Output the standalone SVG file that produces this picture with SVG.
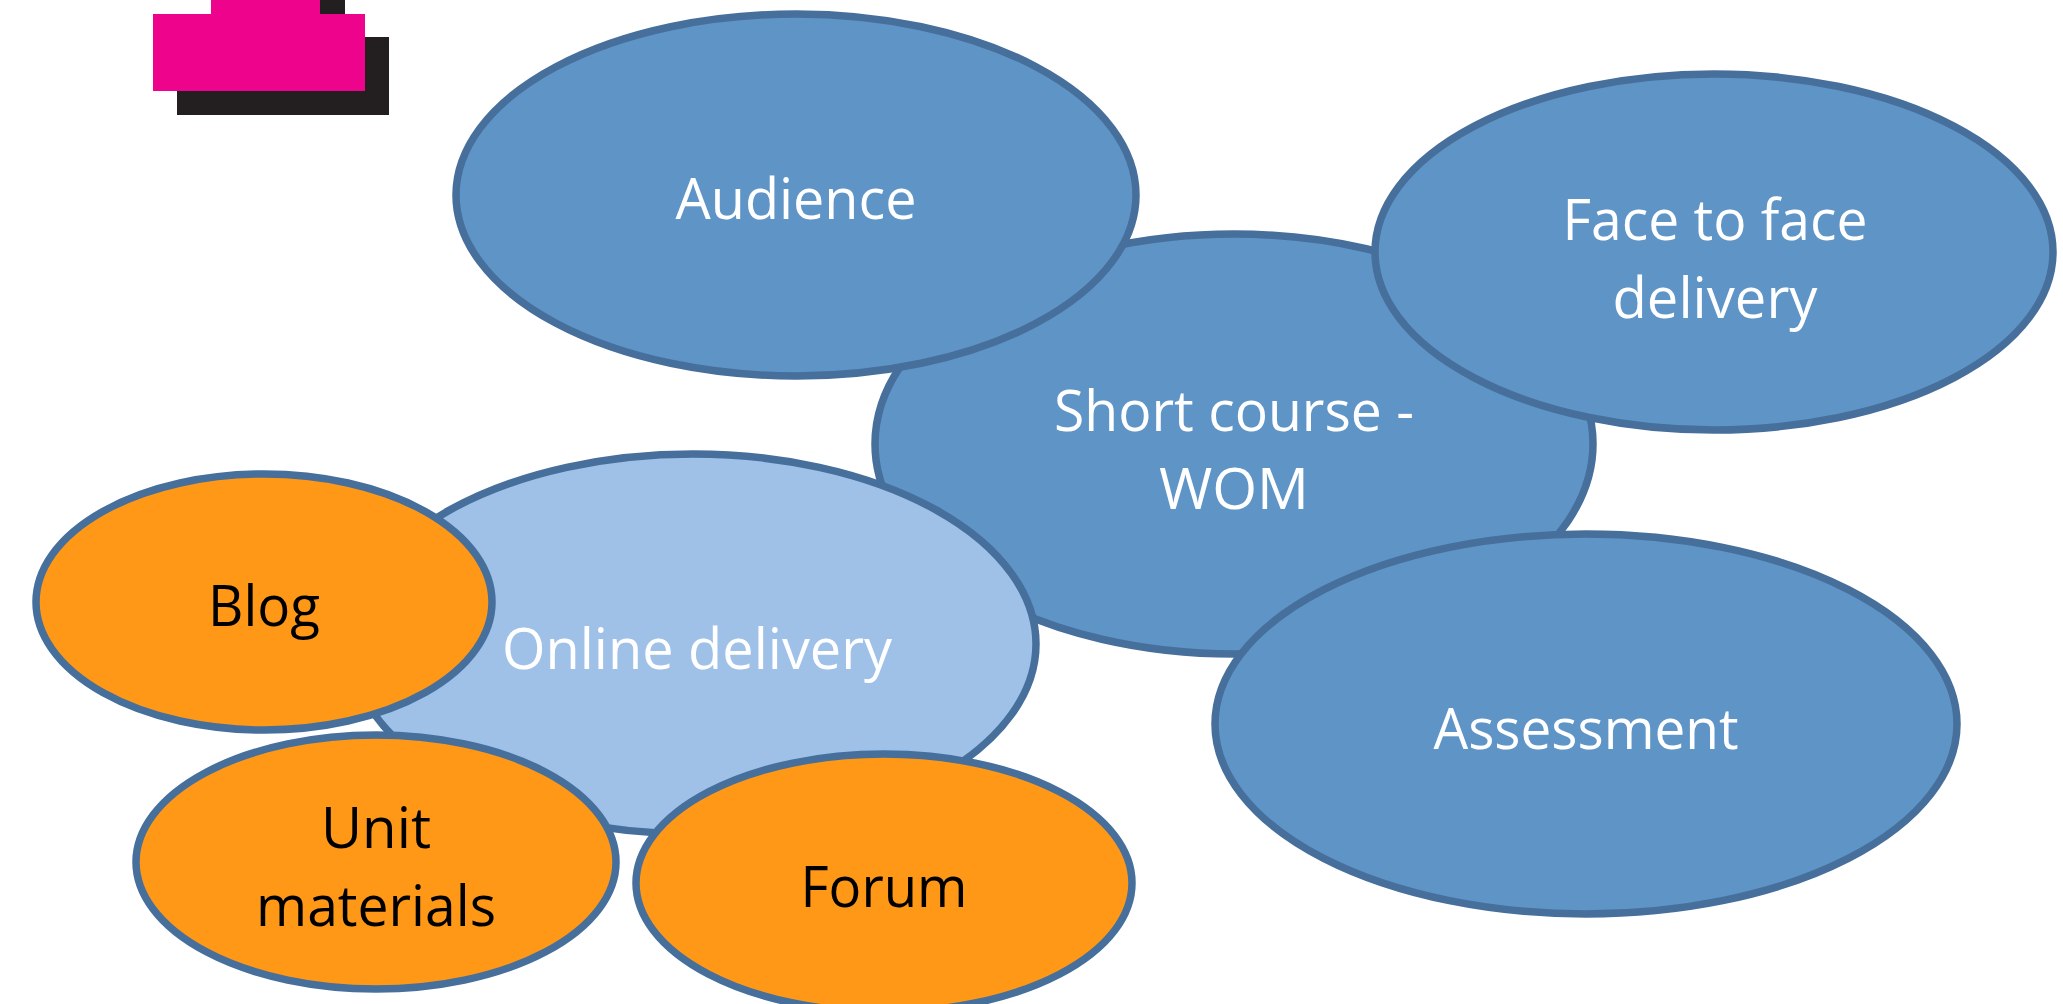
<svg xmlns="http://www.w3.org/2000/svg" width="2063" height="1004" viewBox="0 0 2063 1004">
<style>
.n{stroke:#466f9c;stroke-width:7.5}
.b{fill:#5f94c7}.l{fill:#9fc1e8}.o{fill:#ff9817}
text{font-family:"Open Sans","Noto Sans","Liberation Sans",sans-serif;font-size:56px;text-anchor:middle}
.w{fill:#fff}.k{fill:#000}
</style>
<rect width="2063" height="1004" fill="#fff"/>
<g id="logo">
<rect x="320" y="0" width="25" height="14" fill="#231f20"/>
<rect x="177" y="37" width="212" height="78" fill="#231f20"/>
<rect x="211" y="0" width="109" height="14" fill="#ee048c"/>
<rect x="153" y="14" width="212" height="77" fill="#ee048c"/>
</g>
<g id="connectors"></g>
<g id="short-course"><ellipse class="n b" cx="1234" cy="444" rx="359" ry="210"/><text class="w" x="1234" y="431" textLength="360" lengthAdjust="spacingAndGlyphs">Short course -</text><text class="w" x="1234" y="509" textLength="150" lengthAdjust="spacingAndGlyphs">WOM</text></g>
<g id="audience"><ellipse class="n b" cx="796" cy="195" rx="340" ry="181"/><text class="w" x="796" y="219" textLength="241" lengthAdjust="spacingAndGlyphs">Audience</text></g>
<g id="face-to-face"><ellipse class="n b" cx="1714" cy="252" rx="339" ry="178"/><text class="w" x="1715" y="240" textLength="305" lengthAdjust="spacingAndGlyphs">Face to face</text><text class="w" x="1715" y="318" textLength="205" lengthAdjust="spacingAndGlyphs">delivery</text></g>
<g id="assessment"><ellipse class="n b" cx="1586" cy="724" rx="371" ry="190"/><text class="w" x="1586" y="749" textLength="305" lengthAdjust="spacingAndGlyphs">Assessment</text></g>
<g id="online-delivery"><ellipse class="n l" cx="693" cy="644" rx="343" ry="190"/><text class="w" x="697" y="669" textLength="390" lengthAdjust="spacingAndGlyphs">Online delivery</text></g>
<g id="blog"><ellipse class="n o" cx="264" cy="602" rx="228" ry="128"/><text class="k" x="264" y="626" textLength="112" lengthAdjust="spacingAndGlyphs">Blog</text></g>
<g id="unit-materials"><ellipse class="n o" cx="376" cy="862" rx="240" ry="127"/><text class="k" x="376" y="848" textLength="110" lengthAdjust="spacingAndGlyphs">Unit</text><text class="k" x="376" y="926" textLength="240" lengthAdjust="spacingAndGlyphs">materials</text></g>
<g id="forum"><ellipse class="n o" cx="884" cy="883" rx="248" ry="129"/><text class="k" x="884" y="907" textLength="167" lengthAdjust="spacingAndGlyphs">Forum</text></g>
</svg>
